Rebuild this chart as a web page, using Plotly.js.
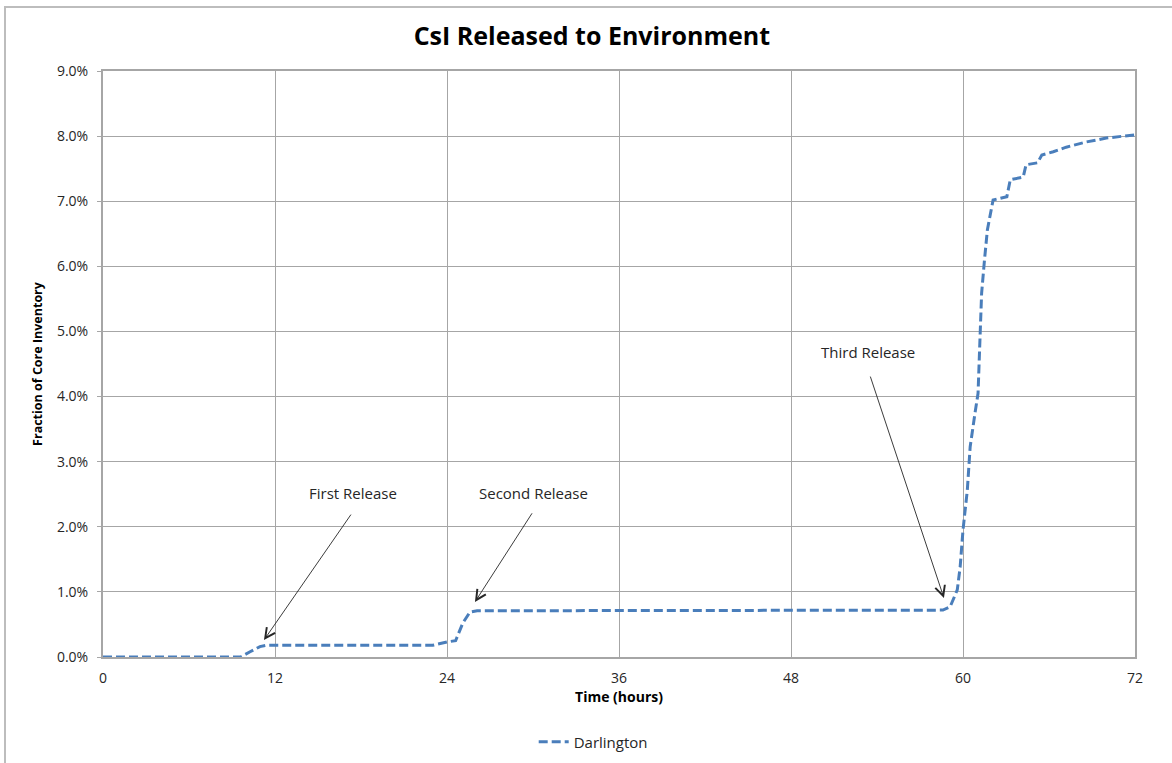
<!DOCTYPE html>
<html>
<head>
<meta charset="utf-8">
<script src="https://cdn.plot.ly/plotly-3.0.1.min.js"></script>
<style>
  html, body { margin: 0; padding: 0; background: #ffffff; }
  #frame { position: absolute; left: 4px; top: 6px; width: 1300px; height: 900px;
           border-left: 2px solid #bdbdbd; border-top: 2px solid #bdbdbd; }
  #chart { position: absolute; left: 0; top: 0; width: 1172px; height: 763px; }
</style>
</head>
<body>
<div id="frame"></div>
<div id="chart"></div>
<script>
// Time (hours)
const timeHours = [0, 5, 9.6, 10.26, 10.95, 11.4, 12, 16, 20, 23.0, 24.1, 24.6, 25.1, 25.6, 26.1,
  30, 40, 50, 58.6, 59.1, 59.6, 59.8, 60.0, 60.3, 60.5, 60.84, 61.05, 61.2, 61.3, 61.5, 61.7, 62.1,
  63.06, 63.3, 64.2, 64.4, 65.2, 65.5, 66.3, 67.2, 68.6, 70.0, 72];
// Fraction of core inventory (%)
const darlington = [0, 0, 0, 0.08, 0.16, 0.18, 0.18, 0.18, 0.18, 0.18, 0.235, 0.25, 0.52, 0.69, 0.71,
  0.71, 0.71, 0.71, 0.72, 0.77, 1.03, 1.38, 1.95, 2.56, 3.23, 3.75, 4.05, 4.98, 5.59, 6.1, 6.56, 7.02,
  7.07, 7.33, 7.37, 7.56, 7.59, 7.71, 7.76, 7.83, 7.91, 7.97, 8.02];
const seriesName = 'Darlington';
const xTicks = [0, 12, 24, 36, 48, 60, 72];
const yTicks = [0, 1, 2, 3, 4, 5, 6, 7, 8, 9];

// Annotation labels
const releaseLabels = ['First Release', 'Second Release', 'Third Release'];
const labelPos = [[17.45, 2.52], [30.0, 2.52], [53.35, 4.69]];
const arrowTail = [[17.37, 2.21], [30.0, 2.23], [53.5, 4.33]];
const arrowHead = [[11.23, 0.26], [25.95, 0.845], [58.67, 0.906]];

const annotations = [];
releaseLabels.forEach((t, i) => {
  annotations.push({
    x: labelPos[i][0], y: labelPos[i][1], xref: 'x', yref: 'y', text: t, showarrow: false,
    font: {family: 'Open Sans, sans-serif', size: 15, color: '#262626'}
  });
  annotations.push({
    x: arrowHead[i][0], y: arrowHead[i][1], ax: arrowTail[i][0], ay: arrowTail[i][1],
    xref: 'x', yref: 'y', axref: 'x', ayref: 'y', text: '', showarrow: true,
    arrowhead: 5, arrowsize: 2.2, arrowwidth: 0.9, arrowcolor: '#262626'
  });
});

const trace = {
  x: timeHours, y: darlington, name: seriesName, type: 'scatter', mode: 'lines',
  line: {color: '#4a7ebb', width: 3, dash: '9px,4px'}
};

const layout = {
  width: 1172, height: 763,
  paper_bgcolor: 'rgba(0,0,0,0)', plot_bgcolor: '#ffffff',
  margin: {l: 103, r: 37, t: 71, b: 106, autoexpand: false},
  font: {family: 'Open Sans, sans-serif', color: '#262626'},
  title: {text: '<b>CsI Released to Environment</b>', x: 0.505, xanchor: 'center', y: 0.952, yanchor: 'middle',
          font: {family: 'Open Sans, sans-serif', size: 25, color: '#000000'}},
  xaxis: {
    range: [0, 72], tickvals: xTicks, ticktext: xTicks.map(String),
    showgrid: true, gridcolor: '#a6a6a6', gridwidth: 1,
    showline: true, linecolor: '#a6a6a6', linewidth: 2, mirror: true,
    zeroline: false, ticks: '', ticklabelstandoff: 7,
    tickfont: {size: 14, color: '#262626'},
    title: {text: '<b>Time (hours)</b>', standoff: 6, font: {size: 14, color: '#000000'}}
  },
  yaxis: {
    range: [0, 9], tickvals: yTicks, ticktext: yTicks.map(v => v.toFixed(1) + '%'),
    showgrid: true, gridcolor: '#a6a6a6', gridwidth: 1,
    showline: true, linecolor: '#a6a6a6', linewidth: 2, mirror: true,
    zeroline: false, ticks: 'outside', ticklen: 4, tickcolor: '#a6a6a6', ticklabelstandoff: 6,
    tickfont: {size: 14, color: '#262626'},
    title: {text: '<b>Fraction of Core Inventory</b>', standoff: 12, font: {size: 12.5, color: '#000000'}}
  },
  showlegend: true,
  legend: {orientation: 'h', x: 0.475, xanchor: 'center', y: -0.145, yanchor: 'middle',
           font: {size: 15, color: '#262626'}, bgcolor: 'rgba(0,0,0,0)'},
  annotations: annotations
};

Plotly.newPlot('chart', [trace], layout, {displayModeBar: false, staticPlot: true});
</script>
</body>
</html>
